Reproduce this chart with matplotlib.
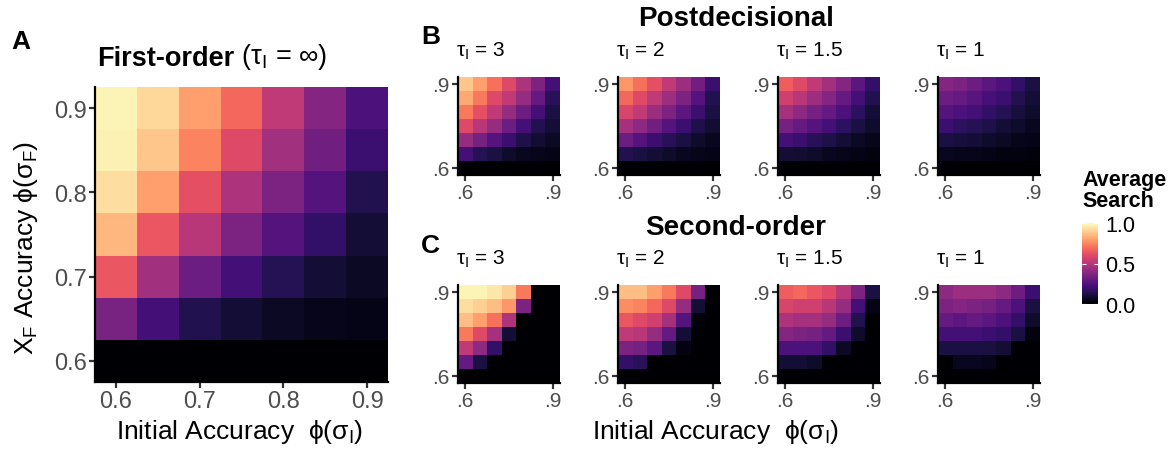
import numpy as np
import matplotlib.pyplot as plt
from matplotlib import cm, colors

W, H = 1171, 452

plt.rcParams['font.family'] = ['Liberation Sans', 'DejaVu Sans']
plt.rcParams['mathtext.fontset'] = 'custom'
plt.rcParams['mathtext.rm'] = 'Liberation Sans'
plt.rcParams['mathtext.it'] = 'Liberation Sans:italic'
plt.rcParams['mathtext.bf'] = 'Liberation Sans:bold'

# accuracy levels, phi(sigma); rows of each grid run from .9 (top) down to .6
acc = [0.6, 0.65, 0.7, 0.75, 0.8, 0.85, 0.9]
acc_rows = acc[::-1]

first_order = [
    [0.98, 0.92, 0.80, 0.68, 0.52, 0.38, 0.24],
    [0.97, 0.88, 0.74, 0.60, 0.45, 0.33, 0.20],
    [0.93, 0.80, 0.62, 0.48, 0.36, 0.26, 0.14],
    [0.85, 0.64, 0.50, 0.36, 0.26, 0.18, 0.10],
    [0.64, 0.45, 0.32, 0.22, 0.15, 0.10, 0.07],
    [0.35, 0.22, 0.14, 0.10, 0.07, 0.05, 0.04],
    [0.00, 0.00, 0.00, 0.00, 0.00, 0.00, 0.00],
]

post_tau3 = [
    [0.88, 0.80, 0.70, 0.60, 0.48, 0.36, 0.22],
    [0.82, 0.72, 0.60, 0.52, 0.42, 0.30, 0.16],
    [0.72, 0.62, 0.52, 0.42, 0.32, 0.22, 0.12],
    [0.60, 0.50, 0.42, 0.32, 0.22, 0.14, 0.10],
    [0.42, 0.34, 0.26, 0.20, 0.13, 0.09, 0.07],
    [0.22, 0.15, 0.12, 0.08, 0.06, 0.05, 0.04],
    [0.00, 0.00, 0.00, 0.00, 0.00, 0.00, 0.00],
]
post_tau2 = [
    [0.78, 0.70, 0.62, 0.52, 0.44, 0.33, 0.20],
    [0.68, 0.60, 0.52, 0.44, 0.36, 0.26, 0.14],
    [0.58, 0.52, 0.43, 0.36, 0.28, 0.20, 0.12],
    [0.46, 0.40, 0.33, 0.26, 0.20, 0.13, 0.09],
    [0.32, 0.26, 0.20, 0.16, 0.12, 0.08, 0.06],
    [0.14, 0.12, 0.10, 0.08, 0.06, 0.05, 0.04],
    [0.00, 0.00, 0.00, 0.00, 0.00, 0.00, 0.00],
]
post_tau15 = [
    [0.66, 0.60, 0.52, 0.45, 0.38, 0.28, 0.18],
    [0.56, 0.50, 0.44, 0.38, 0.30, 0.22, 0.14],
    [0.46, 0.40, 0.34, 0.30, 0.24, 0.17, 0.10],
    [0.34, 0.30, 0.26, 0.22, 0.17, 0.12, 0.08],
    [0.22, 0.20, 0.16, 0.13, 0.10, 0.07, 0.05],
    [0.10, 0.09, 0.08, 0.06, 0.05, 0.04, 0.03],
    [0.00, 0.00, 0.00, 0.00, 0.00, 0.00, 0.00],
]
post_tau1 = [
    [0.38, 0.36, 0.32, 0.28, 0.24, 0.18, 0.12],
    [0.32, 0.30, 0.27, 0.23, 0.20, 0.14, 0.10],
    [0.26, 0.24, 0.22, 0.18, 0.15, 0.11, 0.08],
    [0.20, 0.17, 0.15, 0.13, 0.10, 0.08, 0.06],
    [0.12, 0.11, 0.10, 0.08, 0.07, 0.05, 0.04],
    [0.06, 0.05, 0.05, 0.04, 0.03, 0.03, 0.02],
    [0.00, 0.00, 0.00, 0.00, 0.00, 0.00, 0.00],
]

second_tau3 = [
    [0.98, 0.98, 0.95, 0.90, 0.72, 0.00, 0.00],
    [0.93, 0.90, 0.86, 0.78, 0.36, 0.00, 0.00],
    [0.86, 0.80, 0.70, 0.48, 0.00, 0.00, 0.00],
    [0.72, 0.60, 0.46, 0.10, 0.00, 0.00, 0.00],
    [0.52, 0.40, 0.18, 0.00, 0.00, 0.00, 0.00],
    [0.30, 0.12, 0.00, 0.00, 0.00, 0.00, 0.00],
    [0.00, 0.00, 0.00, 0.00, 0.00, 0.00, 0.00],
]
second_tau2 = [
    [0.86, 0.86, 0.80, 0.72, 0.60, 0.34, 0.00],
    [0.76, 0.74, 0.68, 0.60, 0.42, 0.10, 0.00],
    [0.64, 0.60, 0.56, 0.46, 0.26, 0.02, 0.00],
    [0.52, 0.50, 0.42, 0.30, 0.10, 0.00, 0.00],
    [0.36, 0.34, 0.28, 0.12, 0.03, 0.00, 0.00],
    [0.18, 0.16, 0.00, 0.00, 0.00, 0.00, 0.00],
    [0.00, 0.00, 0.00, 0.00, 0.00, 0.00, 0.00],
]
second_tau15 = [
    [0.66, 0.68, 0.64, 0.60, 0.50, 0.36, 0.12],
    [0.58, 0.56, 0.56, 0.50, 0.42, 0.22, 0.04],
    [0.48, 0.46, 0.46, 0.42, 0.32, 0.14, 0.00],
    [0.38, 0.36, 0.34, 0.30, 0.20, 0.08, 0.00],
    [0.24, 0.24, 0.24, 0.18, 0.07, 0.00, 0.00],
    [0.10, 0.10, 0.08, 0.00, 0.00, 0.00, 0.00],
    [0.00, 0.00, 0.00, 0.00, 0.00, 0.00, 0.00],
]
second_tau1 = [
    [0.40, 0.44, 0.44, 0.44, 0.40, 0.32, 0.20],
    [0.36, 0.38, 0.36, 0.34, 0.30, 0.24, 0.12],
    [0.30, 0.28, 0.30, 0.28, 0.24, 0.18, 0.08],
    [0.22, 0.22, 0.22, 0.20, 0.18, 0.12, 0.03],
    [0.12, 0.12, 0.12, 0.12, 0.10, 0.00, 0.00],
    [0.00, 0.06, 0.06, 0.05, 0.00, 0.00, 0.00],
    [0.00, 0.00, 0.00, 0.00, 0.00, 0.00, 0.00],
]

tau_labels = ['3', '2', '1.5', '1']
post_grids = [post_tau3, post_tau2, post_tau15, post_tau1]
second_grids = [second_tau3, second_tau2, second_tau15, second_tau1]

cmap = plt.get_cmap('magma')
norm = colors.Normalize(0, 1)
TICK_GREY = '#4d4d4d'
XLAB = r'Initial Accuracy  $\mathrm{\phi(\sigma_I)}$'


def px(l, t, r, b):
    return [l / W, 1 - b / H, (r - l) / W, (b - t) / H]


def heat(ax, grid, small):
    ax.pcolormesh(acc, acc_rows, np.array(grid), cmap=cmap, norm=norm,
                  shading='nearest')
    ax.set_xlim(0.575, 0.925)
    ax.set_ylim(0.575, 0.925)
    for s in ['top', 'right']:
        ax.spines[s].set_visible(False)
    for s in ['left', 'bottom']:
        ax.spines[s].set_linewidth(1.6)
        ax.spines[s].set_color('black')
    if small:
        ax.set_xticks([0.6, 0.9], ['.6', '.9'])
        ax.set_yticks([0.6, 0.9], ['.6', '.9'])
        fs = 15
    else:
        ax.set_xticks([0.6, 0.7, 0.8, 0.9], ['0.6', '0.7', '0.8', '0.9'])
        ax.set_yticks([0.6, 0.7, 0.8, 0.9], ['0.6', '0.7', '0.8', '0.9'])
        fs = 17
    ax.tick_params(length=4, width=1.6, color='#333333', labelcolor=TICK_GREY,
                   labelsize=fs, pad=2)


fig = plt.figure(figsize=(W / 100, H / 100), dpi=100)

# panel A
axA = fig.add_axes(px(95, 88, 388, 383))
heat(axA, first_order, False)
fig.text(240 / W, 1 - 432 / H, XLAB, fontsize=19, ha='center', va='center')
fig.text(26 / W, 1 - 248 / H, r'X$_\mathrm{F}$ Accuracy $\mathrm{\phi(\sigma_F)}$',
         fontsize=19, ha='center', va='center', rotation=90)
fig.text(11 / W, 1 - 42 / H, 'A', fontsize=19, fontweight='bold', va='center')
t1 = fig.text(97 / W, 1 - 66 / H, 'First-order', fontsize=19.5, fontweight='bold',
              va='baseline')
axA.annotate(r' ($\mathrm{\tau_I}$ = $\mathrm{\infty}$)', xy=(1, 0), xycoords=t1,
             fontsize=19.5, va='bottom', ha='left')

# panels B and C
lefts = [458, 618, 778, 938]
for row, (grids, top, letter, title, ttl_y) in enumerate([
        (post_grids, 78, 'B', 'Postdecisional', 19),
        (second_grids, 286, 'C', 'Second-order', 228)]):
    for i, g in enumerate(grids):
        ax = fig.add_axes(px(lefts[i], top, lefts[i] + 102, top + 98))
        heat(ax, g, True)
        ax.text(-0.02, 1.215, r'$\mathrm{\tau_I}$ = ' + tau_labels[i],
                transform=ax.transAxes, fontsize=15, ha='left', va='baseline')
    fig.text(736 / W, 1 - ttl_y / H, title, fontsize=20, fontweight='bold',
             ha='center', va='center')
    fig.text(421 / W, 1 - (ttl_y + 18) / H, letter, fontsize=19, fontweight='bold',
             va='center')

fig.text(716 / W, 1 - 432 / H, XLAB, fontsize=19, ha='center', va='center')

# colour bar
cax = fig.add_axes(px(1082, 224, 1098, 305))
cb = fig.colorbar(cm.ScalarMappable(norm=norm, cmap=cmap), cax=cax)
cb.outline.set_visible(False)
cb.set_ticks([0, 0.5, 1.0], labels=['0.0', '0.5', '1.0'])
cax.tick_params(color='white', direction='in', length=3, width=0.8,
                left=True, right=True, labelsize=15.5, labelcolor='black', pad=5)
fig.text(1082 / W, 1 - 191 / H, 'Average\nSearch', fontsize=15.5, fontweight='bold',
         ha='left', va='center', linespacing=0.95)

fig.savefig('out.png', dpi=100)
